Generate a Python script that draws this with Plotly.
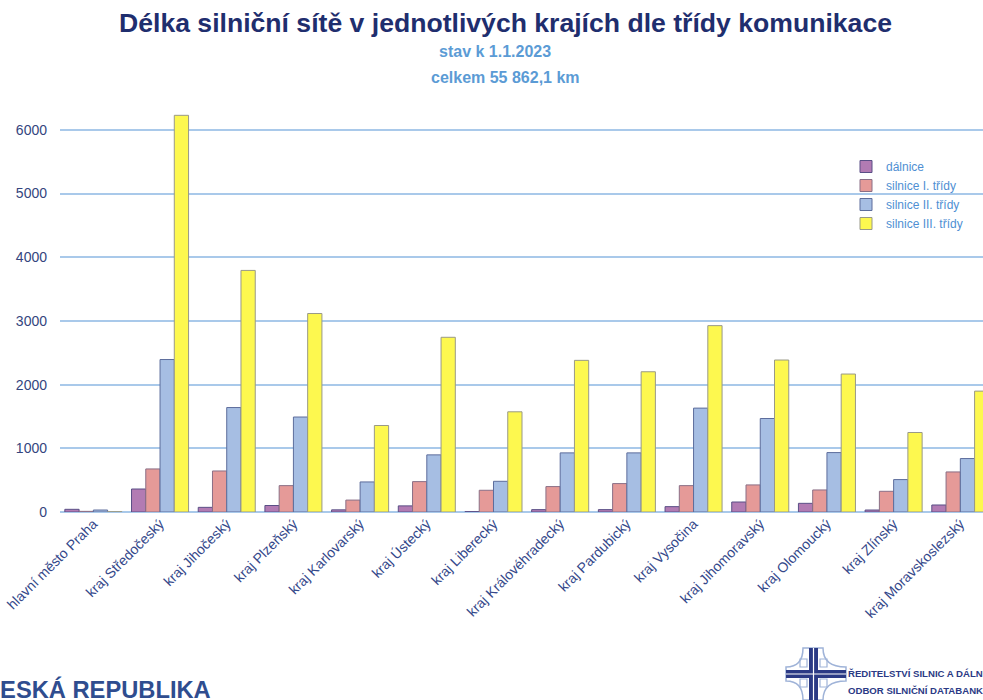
import plotly.graph_objects as go

# ---- data ----
kraje = ["hlavní město Praha", "kraj Středočeský", "kraj Jihočeský", "kraj Plzeňský",
         "kraj Karlovarský", "kraj Ústecký", "kraj Liberecký", "kraj Královéhradecký",
         "kraj Pardubický", "kraj Vysočina", "kraj Jihomoravský", "kraj Olomoucký",
         "kraj Zlínský", "kraj Moravskoslezský"]
dalnice = [42, 361, 73, 102, 34, 96, 6, 37, 37, 84, 157, 136, 31, 110]
silnice_1 = [10, 676, 644, 414, 187, 477, 341, 399, 446, 414, 425, 346, 325, 629]
silnice_2 = [31, 2394, 1640, 1491, 472, 897, 482, 928, 928, 1631, 1468, 933, 509, 839]
silnice_3 = [5, 6228, 3793, 3116, 1358, 2743, 1573, 2381, 2202, 2926, 2386, 2166, 1248, 1898]
series_names = ["dálnice", "silnice I. třídy", "silnice II. třídy", "silnice III. třídy"]
y_ticks = [0, 1000, 2000, 3000, 4000, 5000, 6000]

W, H = 983, 700
ML, MR, MT, MB = 60, 0, 98, 188
PW, PH = W - ML - MR, H - MT - MB

def px(x):
    return (x - ML) / PW

def py(y):
    return (H - MB - y) / PH

FONT = "Liberation Sans, Arial, sans-serif"
NAVY = "#2c3b7e"

fills = ["#b27bb3", "#e59a98", "#a6bee3", "#fdf84f"]
lines = ["#5a4f86", "#8a6f86", "#5d6d9c", "#999988"]
values = [dalnice, silnice_1, silnice_2, silnice_3]

fig = go.Figure()
for name, vals, fc, lc in zip(series_names, values, fills, lines):
    fig.add_trace(go.Bar(x=kraje, y=vals, name=name,
                         marker=dict(color=fc, line=dict(color=lc, width=1))))

fig.update_layout(
    width=W, height=H,
    margin=dict(l=ML, r=MR, t=MT, b=MB, pad=0),
    paper_bgcolor="white", plot_bgcolor="white",
    barmode="group", bargap=0.145, bargroupgap=0,
    font=dict(family=FONT, color=NAVY),
    showlegend=True,
    legend=dict(x=px(846), y=py(152), xanchor="left", yanchor="top",
                font=dict(size=12, color="#4f8fd3", family=FONT),
                bgcolor="rgba(0,0,0,0)", tracegroupgap=0, itemclick=False),
    xaxis=dict(range=[-0.5, 13.34], tickangle=-45, showgrid=False, showline=False,
               ticks="", tickfont=dict(size=14, color="#34488a", family=FONT)),
    yaxis=dict(range=[0, 6500], tickvals=y_ticks, showgrid=True, gridcolor="#a9c9ea",
               gridwidth=1.5, zeroline=True, zerolinecolor="#a9c9ea", zerolinewidth=2,
               showline=False, ticks="", ticklabelstandoff=12,
               tickfont=dict(size=14, color="#34457e", family=FONT)),
)

ann = [
    dict(text="<b>Délka silniční sítě v jednotlivých krajích dle třídy komunikace</b>",
         x=px(505), y=py(23), font=dict(size=26.6, color="#1f2e6e")),
    dict(text="<b>stav k 1.1.2023</b>", x=px(495), y=py(52), font=dict(size=16, color="#5b9bd5")),
    dict(text="<b>celkem 55 862,1 km</b>", x=px(505), y=py(77), font=dict(size=16, color="#5b9bd5")),
    dict(text="<b>ČESKÁ REPUBLIKA</b>", x=px(-19.5), y=py(689), xanchor="left",
         font=dict(size=23.7, color="#2f4d8f")),
    dict(text="<b>ŘEDITELSTVÍ SILNIC A DÁLNIC ČR</b>", x=px(846), y=py(673), xanchor="left",
         font=dict(size=9.6, color="#2b3a85")),
    dict(text="<b>ODBOR SILNIČNÍ DATABANKY</b>", x=px(846), y=py(690), xanchor="left",
         font=dict(size=9.6, color="#2b3a85")),
]
for a in ann:
    a.setdefault("xanchor", "center")
    fig.add_annotation(xref="paper", yref="paper", yanchor="middle", showarrow=False, **a)

# logo (decorative)
def P(x, y):
    return f"{px(x):.5f},{py(y):.5f}"

outline = (f"M {P(803,648)} L {P(823,648)} Q {P(823,667)} {P(846,667)} L {P(846,681)} "
           f"Q {P(823,681)} {P(823,700)} L {P(803,700)} Q {P(803,681)} {P(786,681)} "
           f"L {P(786,667)} Q {P(803,667)} {P(803,648)} Z")
shapes = [dict(type="path", path=outline, line=dict(color="#9fb3d8", width=1.5))]
for (x0, y0) in [(800, 659), (820, 659), (800, 679), (820, 679)]:
    shapes.append(dict(type="rect", x0=px(x0), x1=px(x0 + 7), y0=py(y0), y1=py(y0 + 8),
                       line=dict(color="#9fb3d8", width=1.2)))
shapes += [
    dict(type="rect", x0=px(809), x1=px(818), y0=py(648), y1=py(700),
         fillcolor="#2b3a85", line=dict(width=0)),
    dict(type="rect", x0=px(786), x1=px(846), y0=py(670), y1=py(678),
         fillcolor="#2b3a85", line=dict(width=0)),
    dict(type="line", x0=px(813.5), x1=px(813.5), y0=py(648), y1=py(700),
         line=dict(color="white", width=1.2)),
    dict(type="line", x0=px(786), x1=px(846), y0=py(674), y1=py(674),
         line=dict(color="white", width=1.2)),
]
for s in shapes:
    fig.add_shape(xref="paper", yref="paper", layer="above", **s)

fig.write_html("out.html", config={"displayModeBar": False},
               post_script="document.body.style.margin='0';document.body.style.overflow='hidden';")
